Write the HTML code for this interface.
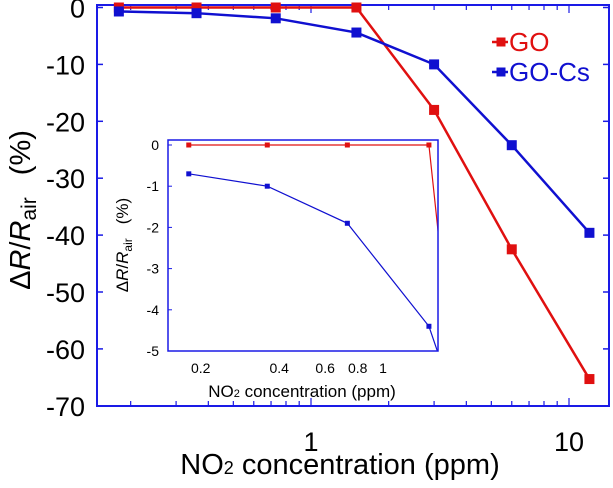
<!DOCTYPE html>
<html><head><meta charset="utf-8"><style>
body{margin:0;background:#fff;width:613px;height:488px;overflow:hidden;font-family:"Liberation Sans",sans-serif}
svg{display:block}
</style></head><body>
<svg id="chart" width="613" height="488" xmlns="http://www.w3.org/2000/svg" font-family="Liberation Sans, sans-serif"></svg>
<script>
const concentrations=[0.18,0.36,0.73,1.5,3,6,12];
const goValues=[0,0,0,0,-18,-42.5,-65.3];
const goCsValues=[-0.7,-1.0,-1.9,-4.4,-10,-24.2,-39.6];
const yTicksMain=[0,-10,-20,-30,-40,-50,-60,-70];
const xTicksMain=[1,10];
const yTicksInset=[0,-1,-2,-3,-4,-5];
const xTicksInset=[0.2,0.4,0.6,0.8,1];
const seriesNames=["GO","GO-Cs"];

const NS="http://www.w3.org/2000/svg";
const svg=document.getElementById('chart');
function mk(tag,attrs,parent){const e=document.createElementNS(NS,tag);for(const k in attrs)e.setAttribute(k,attrs[k]);(parent||svg).appendChild(e);return e;}

const M={l:97,r:609,t:5,b:406};
const mx=v=>311+258*Math.log10(v);
const my=v=>7.5-v*5.69;
const I={l:168,r:438,t:140,b:351};
const ix=v=>383+260.8*Math.log10(v);
const iy=v=>145-v*41.2;

const defs=mk('defs',{});
const cp=mk('clipPath',{id:'insetClip'},defs);
mk('rect',{x:I.l,y:I.t,width:I.r-I.l,height:I.b-I.t},cp);

let e=mk('rect',{x:M.l,y:M.t,width:M.r-M.l,height:M.b-M.t,fill:'none',stroke:'#1a1ae6','stroke-width':2});


yTicksMain.forEach(v=>{
  const y=my(v);
  mk('line',{x1:M.l,x2:M.l+6,y1:y,y2:y,stroke:'#1a1ae6','stroke-width':1.5});
  mk('line',{x1:M.r-6,x2:M.r,y1:y,y2:y,stroke:'#1a1ae6','stroke-width':1.5});
  const t=mk('text',{x:M.l-12,y:y+10,'text-anchor':'end','font-size':27,fill:'#000'});
  t.textContent=v;
  
  
});
for(let d=0.1;d<=10;d*=10){for(let k=1;k<10;k++){const v=d*k;const x=mx(v);if(x<M.l||x>M.r)continue;const len=k===1?8:5;
  mk('line',{x1:x,x2:x,y1:M.b,y2:M.b-len,stroke:'#1a1ae6','stroke-width':1.2});
  mk('line',{x1:x,x2:x,y1:M.t,y2:M.t+len,stroke:'#1a1ae6','stroke-width':1.2});}}
xTicksMain.forEach(v=>{const t=mk('text',{x:mx(v),y:451,'text-anchor':'middle','font-size':27,fill:'#000'});t.textContent=v;
  
  });

e=mk('text',{x:340,y:474,'text-anchor':'middle','font-size':29,fill:'#000'});
e.innerHTML='NO<tspan font-size="18">2</tspan> concentration (ppm)';


e=mk('text',{transform:'translate(30,210) rotate(-90)','text-anchor':'middle','font-size':29,fill:'#000'});
e.innerHTML='Δ<tspan font-style="italic">R</tspan>/<tspan font-style="italic">R</tspan><tspan font-size="21" dy="6">air</tspan><tspan dy="-6" dx="22">(%)</tspan>';



function drawSeries(vals,color,fx,fy,sw,ms,name,clip){
  const g=mk('g',clip?{'clip-path':'url(#insetClip)'}:{});
  
  
  const pts=concentrations.map((c,i)=>fx(c)+','+fy(vals[i])).join(' ');
  mk('polyline',{points:pts,fill:'none',stroke:color,'stroke-width':sw},g);
  concentrations.forEach((c,i)=>{const r=mk('rect',{x:fx(c)-ms/2,y:fy(vals[i])-ms/2,width:ms,height:ms,fill:color},g);
    
    });
}

drawSeries(goValues,'#e01010',mx,my,2.5,10,'go-series',false);
drawSeries(goCsValues,'#1010d0',mx,my,2.5,10,'go-cs-series',false);
e=mk('rect',{x:I.l,y:I.t,width:I.r-I.l,height:I.b-I.t,fill:'#fff'});
drawSeries(goValues,'#e01010',ix,iy,1.2,5,'inset-go-series',true);
drawSeries(goCsValues,'#1010d0',ix,iy,1.2,5,'inset-go-cs-series',true);
e=mk('rect',{x:I.l,y:I.t,width:I.r-I.l,height:I.b-I.t,fill:'none',stroke:'#1a1ae6','stroke-width':1.5});


yTicksInset.forEach(v=>{const y=iy(v);
  mk('line',{x1:I.l,x2:I.l+4,y1:y,y2:y,stroke:'#1a1ae6'});
  const t=mk('text',{x:I.l-9,y:y+5,'text-anchor':'end','font-size':14,fill:'#000'});t.textContent=v;
  
  });
xTicksInset.forEach(v=>{
  const t=mk('text',{x:ix(v),y:373,'text-anchor':'middle','font-size':14,fill:'#000'});t.textContent=v;
  
  });
e=mk('text',{x:302,y:397,'text-anchor':'middle','font-size':17,fill:'#000'});
e.innerHTML='NO<tspan font-size="11">2</tspan> concentration (ppm)';


e=mk('text',{transform:'translate(128,245) rotate(-90)','text-anchor':'middle','font-size':17,fill:'#000'});
e.innerHTML='Δ<tspan font-style="italic">R</tspan>/<tspan font-style="italic">R</tspan><tspan font-size="12" dy="4">air</tspan><tspan dy="-4" dx="14">(%)</tspan>';



[['#e01010',42],['#1010d0',72]].forEach((c,i)=>{
  const g=mk('g',{});
  
  
  mk('line',{x1:492,x2:508,y1:c[1],y2:c[1],stroke:c[0],'stroke-width':2.5},g);
  mk('rect',{x:501-4.5,y:c[1]-4.5,width:9,height:9,fill:c[0]},g);
  const t=mk('text',{x:509,y:c[1]+9,'font-size':26,fill:c[0]},g);t.textContent=seriesNames[i];
});
</script>
</body></html>
